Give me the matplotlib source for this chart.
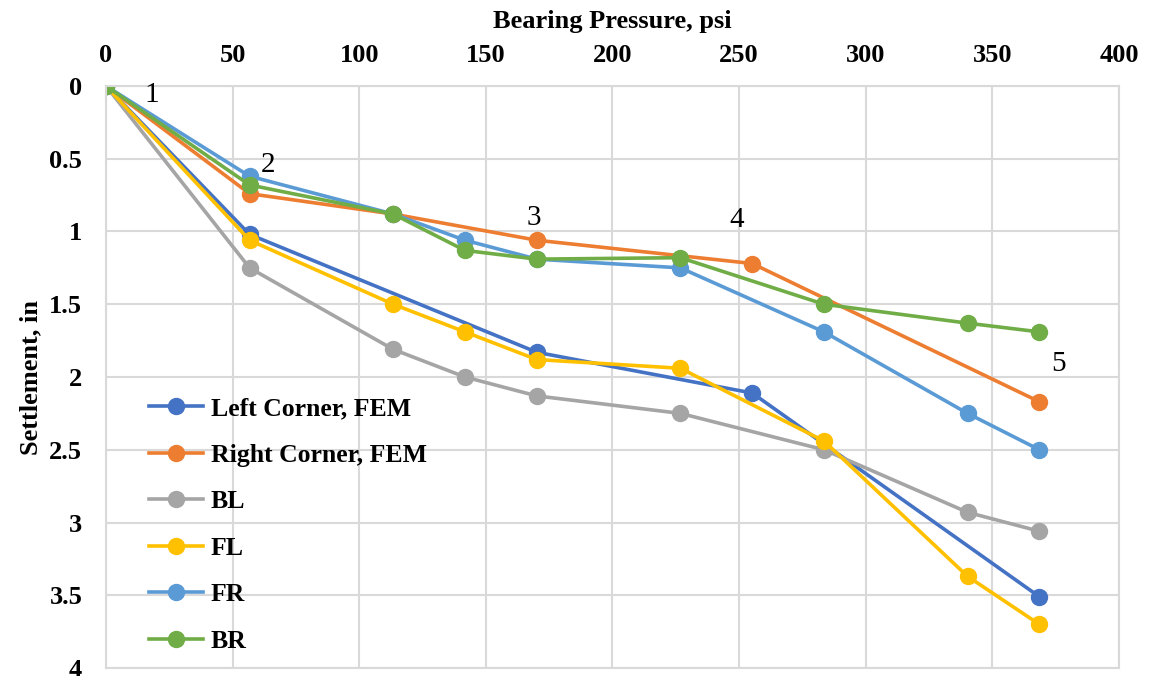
import matplotlib
matplotlib.use("Agg")
import matplotlib.pyplot as plt
from matplotlib.ticker import FuncFormatter

plt.rcParams["font.family"] = ["Liberation Serif", "DejaVu Serif"]

# load steps (psi) and settlements (in)
p_left = [0, 56.7, 170.1, 255.15, 368.55]
s_left = [0, 1.02, 1.83, 2.11, 3.51]

p_right = [0, 56.7, 113.4, 170.1, 255.15, 368.55]
s_right = [0, 0.74, 0.88, 1.06, 1.22, 2.17]

p_all = [0, 56.7, 113.4, 141.75, 170.1, 226.8, 283.5, 340.2, 368.55]
s_bl = [0, 1.25, 1.81, 2.00, 2.13, 2.25, 2.50, 2.93, 3.06]
s_fl = [0, 1.06, 1.50, 1.69, 1.88, 1.94, 2.44, 3.37, 3.70]
s_fr = [0, 0.62, 0.88, 1.06, 1.19, 1.25, 1.69, 2.25, 2.50]
s_br = [0, 0.68, 0.88, 1.13, 1.19, 1.18, 1.50, 1.63, 1.69]

stage_labels = ["1", "2", "3", "4", "5"]
stage_x = [18, 64, 169, 249, 376]
stage_y = [0.06, 0.54, 0.91, 0.92, 1.91]

fig = plt.figure(figsize=(11.67, 6.76), dpi=100)
ax = fig.add_axes([0.0908, 0.0118, 0.8681, 0.861])

kw = dict(marker="o", ms=11.5, lw=2.6)
ax.plot(p_left, s_left, color="#4472C4", label="Left Corner, FEM", **kw)
ax.plot(p_right, s_right, color="#ED7D31", label="Right Corner, FEM", **kw)
ax.plot(p_all, s_bl, color="#A5A5A5", label="BL", **kw)
ax.plot(p_all, s_fl, color="#FFC000", label="FL", **kw)
ax.plot(p_all, s_fr, color="#5B9BD5", label="FR", **kw)
ax.plot(p_all, s_br, color="#70AD47", label="BR", **kw)

for t, x, y in zip(stage_labels, stage_x, stage_y):
    ax.text(x, y, t, fontsize=21, ha="center", va="center")

ax.set_xlim(0, 400)
ax.set_ylim(4, 0)
ax.set_xticks(range(0, 401, 50))
ax.set_yticks([i * 0.5 for i in range(9)])
ax.yaxis.set_major_formatter(FuncFormatter(lambda v, _: f"{v:g}"))
ax.xaxis.tick_top()
ax.xaxis.set_label_position("top")
ax.tick_params(length=0, labelsize=19)
ax.tick_params(axis="x", pad=14)
ax.tick_params(axis="y", pad=17)
for lab in ax.get_xticklabels() + ax.get_yticklabels():
    lab.set_fontweight("bold")
ax.set_xlabel("Bearing Pressure, psi", fontsize=19, fontweight="bold", labelpad=11)
ax.set_ylabel("Settlement, in", fontsize=19, fontweight="bold", labelpad=5)

ax.grid(color="#D9D9D9", lw=1.5)
ax.set_axisbelow(True)
for sp in ax.spines.values():
    sp.set_color("#D9D9D9")
    sp.set_linewidth(1.5)

ax.legend(loc="center left", bbox_to_anchor=(0.0326, 0.2457), frameon=False,
          borderaxespad=0, prop={"size": 18.5, "weight": "bold"},
          labelspacing=0.92, handlelength=2.1, handletextpad=0.3)

fig.savefig("out.png", dpi=100)
